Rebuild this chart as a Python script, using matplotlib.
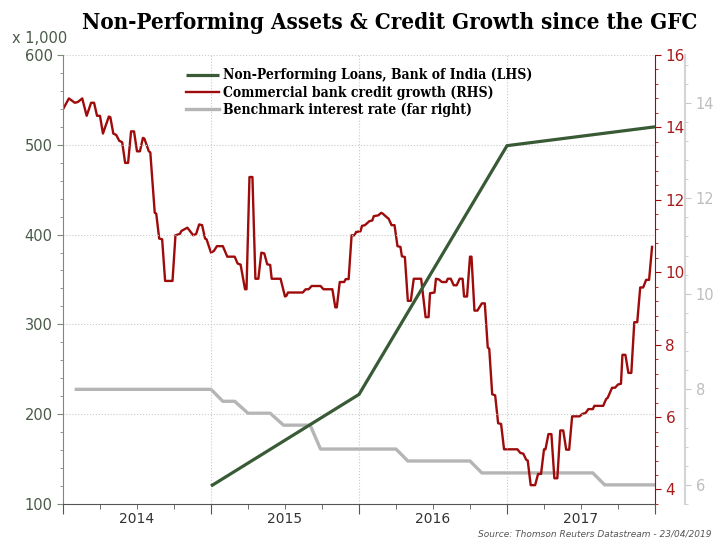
import matplotlib
matplotlib.use("Agg")
import matplotlib.pyplot as plt
from matplotlib.ticker import MultipleLocator, FixedLocator, FuncFormatter

# Non-performing loans, Bank of India (thousands)
npl_t = [2015.0, 2016.0, 2017.0, 2018.0]
npl_v = [120, 222, 499, 520]

# RBI repo rate (%)
rate_t = [2014.09, 2015.00, 2015.08, 2015.16, 2015.25, 2015.40, 2015.49, 2015.67,
          2015.74, 2016.25, 2016.33, 2016.75, 2016.83, 2017.58, 2017.66, 2018.00]
rate_v = [8.0, 8.0, 7.75, 7.75, 7.5, 7.5, 7.25, 7.25,
          6.75, 6.75, 6.5, 6.5, 6.25, 6.25, 6.0, 6.0]

# Commercial bank credit growth (% y/y, fortnightly)
credit_t = [2014.00, 2014.04, 2014.08, 2014.10, 2014.13, 2014.16, 2014.19, 2014.21, 2014.23, 2014.25,
            2014.27, 2014.31, 2014.32, 2014.34, 2014.36, 2014.38, 2014.40, 2014.42, 2014.44, 2014.46,
            2014.48, 2014.50, 2014.52, 2014.54, 2014.55, 2014.58, 2014.59, 2014.62, 2014.63, 2014.65,
            2014.67, 2014.69, 2014.74, 2014.76, 2014.79, 2014.80, 2014.84, 2014.85, 2014.88, 2014.90,
            2014.92, 2014.94, 2014.96, 2014.97, 2015.00, 2015.02, 2015.04, 2015.08, 2015.11, 2015.16,
            2015.18, 2015.20, 2015.23, 2015.24, 2015.26, 2015.28, 2015.30, 2015.32, 2015.34, 2015.36,
            2015.38, 2015.40, 2015.41, 2015.47, 2015.50, 2015.51, 2015.52, 2015.62, 2015.64, 2015.66,
            2015.68, 2015.74, 2015.76, 2015.82, 2015.84, 2015.85, 2015.87, 2015.90, 2015.91, 2015.93,
            2015.95, 2015.97, 2015.98, 2016.01, 2016.02, 2016.04, 2016.07, 2016.09, 2016.10, 2016.13,
            2016.15, 2016.16, 2016.19, 2016.20, 2016.22, 2016.24, 2016.26, 2016.28, 2016.29, 2016.31,
            2016.33, 2016.35, 2016.37, 2016.42, 2016.45, 2016.47, 2016.48, 2016.51, 2016.52, 2016.54,
            2016.56, 2016.59, 2016.60, 2016.62, 2016.64, 2016.66, 2016.68, 2016.70, 2016.71, 2016.73,
            2016.75, 2016.76, 2016.78, 2016.80, 2016.83, 2016.85, 2016.87, 2016.88, 2016.90, 2016.92,
            2016.94, 2016.96, 2016.98, 2017.07, 2017.09, 2017.11, 2017.13, 2017.14, 2017.16, 2017.19,
            2017.21, 2017.23, 2017.25, 2017.26, 2017.28, 2017.30, 2017.32, 2017.34, 2017.36, 2017.38,
            2017.40, 2017.42, 2017.44, 2017.49, 2017.51, 2017.53, 2017.55, 2017.58, 2017.59, 2017.65,
            2017.67, 2017.68, 2017.71, 2017.73, 2017.75, 2017.77, 2017.78, 2017.80, 2017.82, 2017.84,
            2017.86, 2017.88, 2017.90, 2017.92, 2017.94, 2017.96, 2017.98]
credit_v = [14.50, 14.80, 14.68, 14.70, 14.80, 14.32, 14.68, 14.68, 14.32, 14.32,
            13.83, 14.30, 14.28, 13.83, 13.79, 13.63, 13.59, 13.02, 13.02, 13.89,
            13.89, 13.34, 13.34, 13.71, 13.69, 13.34, 13.31, 11.64, 11.62, 10.93,
            10.91, 9.76, 9.76, 11.02, 11.06, 11.14, 11.23, 11.18, 11.02, 11.06,
            11.32, 11.30, 10.93, 10.91, 10.54, 10.59, 10.72, 10.72, 10.43, 10.43,
            10.24, 10.21, 9.53, 9.53, 12.63, 12.63, 9.82, 9.82, 10.54, 10.52,
            10.22, 10.20, 9.82, 9.82, 9.33, 9.35, 9.44, 9.44, 9.53, 9.53,
            9.62, 9.62, 9.53, 9.53, 9.03, 9.03, 9.73, 9.73, 9.81, 9.81,
            11.02, 11.02, 11.11, 11.13, 11.28, 11.30, 11.41, 11.43, 11.55, 11.57,
            11.64, 11.62, 11.51, 11.48, 11.30, 11.30, 10.72, 10.70, 10.44, 10.42,
            9.21, 9.21, 9.82, 9.82, 8.76, 8.76, 9.42, 9.44, 9.82, 9.80,
            9.73, 9.73, 9.82, 9.82, 9.64, 9.64, 9.82, 9.82, 9.33, 9.33,
            10.43, 10.43, 8.94, 8.94, 9.14, 9.14, 7.92, 7.89, 6.63, 6.60,
            5.83, 5.81, 5.11, 5.11, 5.01, 4.99, 4.82, 4.80, 4.12, 4.12,
            4.43, 4.43, 5.11, 5.11, 5.53, 5.53, 4.31, 4.31, 5.63, 5.63,
            5.10, 5.10, 6.02, 6.02, 6.09, 6.11, 6.22, 6.22, 6.31, 6.31,
            6.50, 6.53, 6.81, 6.81, 6.90, 6.92, 7.72, 7.72, 7.22, 7.22,
            8.62, 8.62, 9.58, 9.58, 9.79, 9.79, 10.70]

years = [2014, 2015, 2016, 2017]

GREEN = '#385a35'
RED = '#9e0b0b'
GREY = '#b5b5b5'
LEFT_TXT = '#4a5a48'

fig = plt.figure(figsize=(7.19, 5.40), dpi=100)
ax = fig.add_axes([0.0876, 0.0667, 0.8234, 0.8315])
ax_r = ax.twinx()
ax_g = ax.twinx()

# green on top, then red, grey at the back
ax.set_zorder(3)
ax.patch.set_visible(False)
ax_r.set_zorder(2)
ax_r.patch.set_visible(False)
ax_g.set_zorder(1)

l_npl, = ax.plot(npl_t, npl_v, color=GREEN, lw=2.3, solid_capstyle='butt',
                 label='Non-Performing Loans, Bank of India (LHS)')
l_cr, = ax_r.plot(credit_t, credit_v, color=RED, lw=1.7,
                  label='Commercial bank credit growth (RHS)')
l_rate, = ax_g.plot(rate_t, rate_v, color=GREY, lw=2.4,
                    label='Benchmark interest rate (far right)')

ax.set_xlim(2014, 2018)
ax.set_ylim(100, 600)
ax_r.set_ylim(3.6, 16)
ax_g.set_ylim(5.6, 15.0)

# x axis: long ticks at year boundaries, quarter ticks, labels mid-year
ax.xaxis.set_major_locator(FixedLocator([2014, 2015, 2016, 2017, 2018]))
ax.xaxis.set_major_formatter(FuncFormatter(lambda v, p: ''))
quarters = [y + q for y in years for q in (0.25, 0.5, 0.75)]
ax.xaxis.set_minor_locator(FixedLocator(quarters))
ax.xaxis.set_minor_formatter(FuncFormatter(
    lambda v, p: str(int(v)) if abs(v - int(v) - 0.5) < 1e-6 else ''))
ax.tick_params(axis='x', which='major', length=7, color='#555555')
ax.tick_params(axis='x', which='minor', length=3.5, color='#555555',
               labelsize=10, labelcolor='#333333', pad=2)

ax.yaxis.set_major_locator(MultipleLocator(100))
ax.yaxis.set_minor_locator(MultipleLocator(20))
ax.tick_params(axis='y', which='major', length=4, color='#7d8a78',
               labelsize=10.5, labelcolor=LEFT_TXT)
ax.tick_params(axis='y', which='minor', length=2.5, color='#7d8a78')

ax_r.yaxis.set_major_locator(MultipleLocator(2))
ax_r.yaxis.set_minor_locator(MultipleLocator(0.4))
ax_r.tick_params(axis='y', which='major', length=4, color=RED,
                 labelsize=11, labelcolor='#a81c1c')
ax_r.tick_params(axis='y', which='minor', length=2.5, color=RED)

ax_g.spines['right'].set_position(('axes', 1.051))
ax_g.yaxis.set_major_locator(MultipleLocator(2))
ax_g.yaxis.set_minor_locator(MultipleLocator(0.4))
ax_g.tick_params(axis='y', which='major', length=4, color='#c8c8c8',
                 labelsize=10.5, labelcolor='#bdbdbd')
ax_g.tick_params(axis='y', which='minor', length=2.5, color='#c8c8c8')

for a in (ax, ax_r, ax_g):
    a.spines['top'].set_visible(False)
ax.spines['right'].set_visible(False)
ax.spines['left'].set_color('#7d8a78')
ax.spines['bottom'].set_color('#555555')
ax_r.spines['left'].set_visible(False)
ax_r.spines['bottom'].set_visible(False)
ax_r.spines['right'].set_color(RED)
ax_g.spines['left'].set_visible(False)
ax_g.spines['bottom'].set_visible(False)
ax_g.spines['right'].set_color('#d4d4d4')
ax_g.spines['right'].set_linewidth(1.5)

for v in range(200, 601, 100):
    ax.axhline(v, color='#c9c9c9', lw=0.8, ls=':', zorder=0)
for y in years[1:]:
    ax.axvline(y, color='#c9c9c9', lw=0.8, ls=':', zorder=0)

fig.text(0.017, 0.915, 'x 1,000', fontsize=10.5, color=LEFT_TXT, va='bottom')

fig.text(0.542, 0.958, 'Non-Performing Assets & Credit Growth since the GFC',
         fontsize=16, fontweight='bold', family='DejaVu Serif',
         fontstretch='condensed', ha='center', va='center', color='black')

ax.legend(handles=[l_npl, l_cr, l_rate], loc='upper left',
          bbox_to_anchor=(0.258, 0.874), bbox_transform=fig.transFigure,
          frameon=False, handlelength=2.4, handletextpad=0.3,
          labelspacing=0.22, borderpad=0, borderaxespad=0,
          prop={'family': 'DejaVu Serif', 'weight': 'bold', 'size': 10,
                'stretch': 'condensed'})

fig.text(0.99, 0.002, 'Source: Thomson Reuters Datastream - 23/04/2019',
         fontsize=6.5, style='italic', color='#555555', ha='right', va='bottom')

fig.savefig('out.png', dpi=100)
